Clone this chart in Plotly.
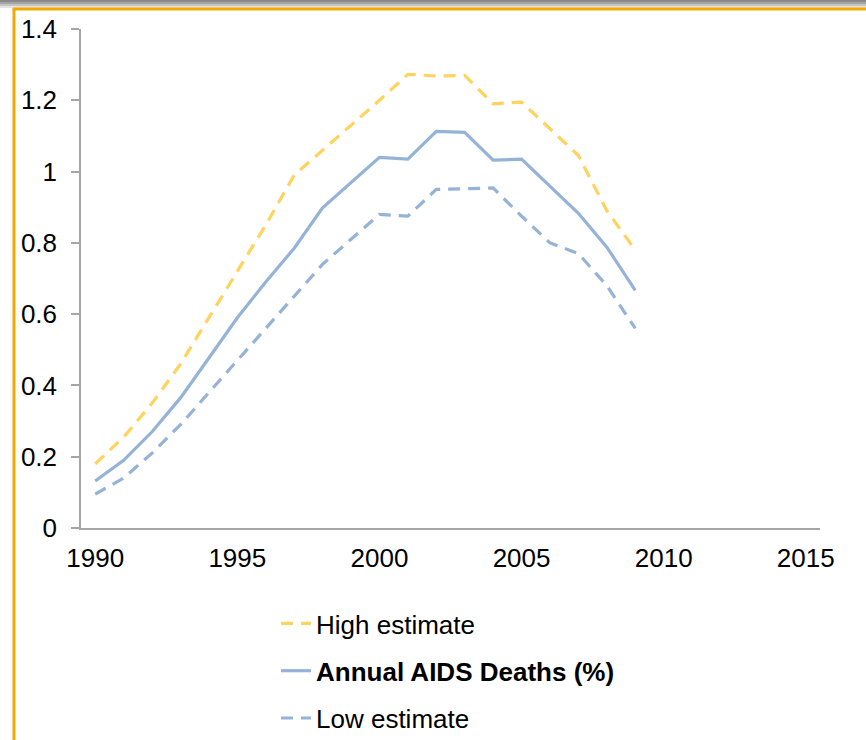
import plotly.graph_objects as go

years = list(range(1990, 2010))
high_estimate = [0.18, 0.255, 0.35, 0.46, 0.59, 0.72, 0.85, 0.99, 1.06, 1.13,
                 1.20, 1.273, 1.268, 1.27, 1.19, 1.195, 1.12, 1.045, 0.89, 0.78]
annual_deaths = [0.132, 0.19, 0.27, 0.365, 0.477, 0.59, 0.69, 0.785, 0.898, 0.97,
                 1.04, 1.035, 1.113, 1.11, 1.032, 1.035, 0.96, 0.883, 0.788, 0.667]
low_estimate = [0.095, 0.14, 0.21, 0.29, 0.38, 0.47, 0.56, 0.648, 0.74, 0.81,
                0.88, 0.875, 0.95, 0.952, 0.954, 0.875, 0.80, 0.77, 0.68, 0.56]

x_ticks = [1990, 1995, 2000, 2005, 2010, 2015]
y_ticks = [0, 0.2, 0.4, 0.6, 0.8, 1, 1.2, 1.4]

BLUE = "#95B3D7"
YELLOW = "#FFD35E"
FONT = "Liberation Sans, Arial, sans-serif"

fig = go.Figure()
fig.add_trace(go.Scatter(x=years, y=high_estimate, mode="lines", name="High estimate",
                         line=dict(color=YELLOW, width=3.2, dash="12px,8px"),
                         legendgroup="a"))
fig.add_trace(go.Scatter(x=years, y=annual_deaths, mode="lines",
                         name="<b>Annual AIDS Deaths (%)</b>",
                         line=dict(color=BLUE, width=3.2), legendgroup="b"))
fig.add_trace(go.Scatter(x=years, y=low_estimate, mode="lines", name="Low estimate",
                         line=dict(color=BLUE, width=3.2, dash="12px,8px"),
                         legendgroup="c"))

L, R, T, B = 81, 46, 29, 212
W, H = 866, 740
pw = W - L - R
ph = H - T - B


def px(xpix):
    return (xpix - L) / pw


def py(ypix):
    return (H - B - ypix) / ph


shapes = []
grads = ["#8a8a8a", "#a5a5a5", "#c4c4c4", "#e4e4e4"]
for i, c in enumerate(grads):
    shapes.append(dict(type="rect", xref="paper", yref="paper",
                       x0=px(0), x1=px(W), y0=py(2 * i), y1=py(2 * i + 2),
                       line=dict(width=0), fillcolor=c, layer="below"))
shapes.append(dict(type="line", xref="paper", yref="paper",
                   x0=px(13), x1=px(W), y0=py(9), y1=py(9),
                   line=dict(color="#F2A900", width=3)))
shapes.append(dict(type="line", xref="paper", yref="paper",
                   x0=px(14), x1=px(14), y0=py(8), y1=py(H),
                   line=dict(color="#F2A900", width=3)))

fig.update_layout(
    width=W, height=H,
    margin=dict(l=L, r=R, t=T, b=B, autoexpand=False),
    paper_bgcolor="white", plot_bgcolor="white",
    font=dict(family=FONT, size=26, color="black"),
    showlegend=True,
    legend=dict(x=px(276), y=py(600), xanchor="left", yanchor="top",
                traceorder="grouped", tracegroupgap=10.5,
                font=dict(family=FONT, size=26, color="black"),
                bgcolor="rgba(0,0,0,0)"),
    shapes=shapes,
)
fig.update_xaxes(range=[1989.5, 2015.5], tickvals=x_ticks,
                 ticktext=[str(v) for v in x_ticks],
                 showgrid=False, zeroline=False, showline=True,
                 linecolor="#A6A6A6", linewidth=1.5, ticks="",
                 ticklabelstandoff=6,
                 tickfont=dict(family=FONT, size=26, color="black"))
fig.update_yaxes(range=[0, 1.4], tickvals=y_ticks,
                 ticktext=["0", "0.2", "0.4", "0.6", "0.8", "1", "1.2", "1.4"],
                 showgrid=False, zeroline=False, showline=True,
                 linecolor="#A6A6A6", linewidth=1.5, ticks="outside",
                 ticklen=8, tickcolor="#A6A6A6", tickwidth=1.5,
                 ticklabelstandoff=9,
                 tickfont=dict(family=FONT, size=26, color="black"))

fig.write_html("out.html", config={"displayModeBar": False},
               post_script="document.body.style.margin='0';document.body.style.overflow='hidden';")
